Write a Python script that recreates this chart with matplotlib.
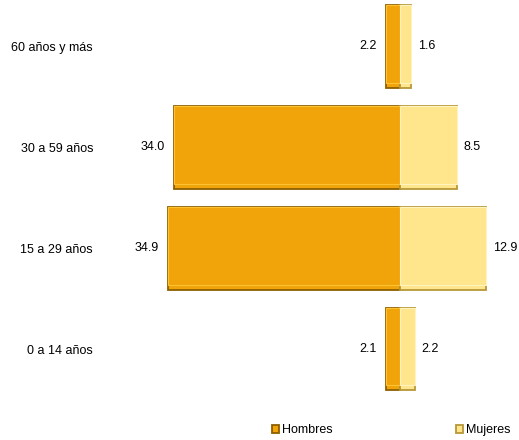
import numpy as np
import matplotlib.pyplot as plt

# age groups, bottom to top
grupos = ["0 a 14 años", "15 a 29 años", "30 a 59 años", "60 años y más"]
hombres = [2.1, 34.9, 34.0, 2.2]
mujeres = [2.2, 12.9, 8.5, 1.6]

col_h = "#F0A40A"
col_m = "#FFE68C"
borde_h = "#8C6000"
borde_m = "#B89838"

fig = plt.figure(figsize=(5.19, 4.40), dpi=100)
ax = fig.add_axes([100 / 519, 40 / 440, 410 / 519, 400 / 440])

y = np.arange(len(grupos))
alto = 0.82
h_neg = [-v for v in hombres]

ax.barh(y, h_neg, height=alto, color=col_h, edgecolor=borde_h, linewidth=1.3, label="Hombres")
ax.barh(y, mujeres, height=alto, color=col_m, edgecolor=borde_m, linewidth=1.3, label="Mujeres")
# light top edge to imitate the bevel
ax.barh(y + alto * 0.03, h_neg, height=alto * 0.94, color=col_h, edgecolor="#FFC232", linewidth=0.8)
ax.barh(y + alto * 0.03, mujeres, height=alto * 0.94, color=col_m, edgecolor="#FFF4C0", linewidth=0.8)

for yi, v in zip(y, hombres):
    ax.annotate(f"{v:.1f}", (-v, yi), xytext=(-6.5, 0), textcoords="offset points",
                ha="right", va="center", fontsize=9, family="Liberation Sans")
for yi, v in zip(y, mujeres):
    ax.annotate(f"{v:.1f}", (v, yi), xytext=(5.0, 0), textcoords="offset points",
                ha="left", va="center", fontsize=9, family="Liberation Sans")

ax.set_xlim(-45.1, 16.5)
ax.set_ylim(-0.505, 3.46)
ax.set_yticks(y)
ax.set_yticklabels(grupos, fontsize=9, family="Liberation Sans")
ax.tick_params(axis="y", length=0, pad=5)
ax.set_xticks([])
for s in ax.spines.values():
    s.set_visible(False)

h1, l1 = ax.get_legend_handles_labels()
leg = fig.legend(h1[:2], l1[:2], loc="center", bbox_to_anchor=(391 / 519, 10 / 440),
                 ncol=2, frameon=False, handlelength=0.6, handleheight=0.6,
                 handletextpad=0.2, columnspacing=9.9, prop={"family": "Liberation Sans", "size": 9})

fig.savefig("out.png", dpi=100, facecolor="white")
